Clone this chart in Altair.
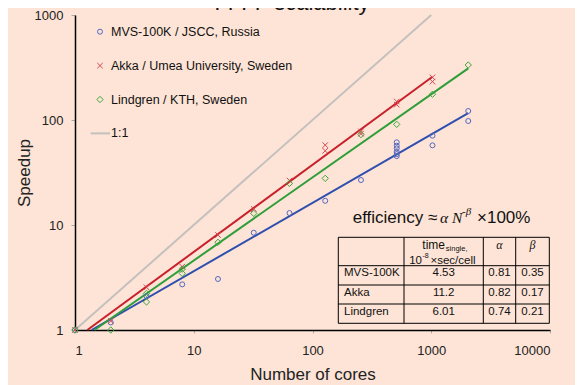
import altair as alt
import pandas as pd

# ---------------- data ----------------
mvs_cores = [1, 2, 4, 8, 16, 32, 64, 128, 256, 512, 512, 512, 512, 512, 512, 1024, 1024, 2048, 2048]
mvs_speedup = [1, 1.18, 2.1, 2.72, 3.06, 8.44, 13.0, 17.0, 26.8, 61.3, 56.9, 53.7, 49.6, 47.3, 45.3, 70.9, 57.4, 121.8, 97.8]

akka_cores = [1, 2, 4, 8, 16, 32, 64, 128, 128, 256, 256, 512, 512, 1024, 1024]
akka_speedup = [1, 1.22, 2.55, 4.01, 8.03, 14.2, 26.5, 57.7, 50.9, 78, 74, 150, 140, 255, 232]

lind_cores = [1, 2, 4, 4, 8, 8, 16, 32, 64, 128, 256, 512, 1024, 2048]
lind_speedup = [1, 1.0, 2.23, 1.85, 3.46, 3.8, 6.84, 12.9, 24.9, 27.8, 72.5, 90.9, 176, 334]

# fitted lines (start / end points)
mvs_fit_cores = [1.38, 2048]
mvs_fit_speedup = [1, 116]
akka_fit_cores = [1.27, 1024]
akka_fit_speedup = [1, 258]
lind_fit_cores = [1.46, 2048]
lind_fit_speedup = [1, 310]
ideal_cores = [1, 1000]
ideal_speedup = [1, 1000]

legend_labels = ["MVS-100K / JSCC, Russia", "Akka / Umea University, Sweden", "Lindgren / KTH, Sweden", "1:1"]

table_rows = ["MVS-100K", "Akka", "Lindgren"]
table_time = ["4.53", "11.2", "6.01"]
table_alpha = ["0.81", "0.82", "0.74"]
table_beta = ["0.35", "0.17", "0.21"]

x_ticks = [1, 10, 100, 1000, 10000]
y_ticks = [1, 10, 100, 1000]

# ---------------- styles ----------------
BG = "#FDE4D6"
W, H = 475, 315
SANS = "Liberation Sans"
SERIF = "Liberation Serif"
BLUE_L, BLUE_M = "#2F4FAE", "#5468C0"
RED_L, RED_M = "#C8202A", "#D5474F"
GREEN_L, GREEN_M = "#2E9E3A", "#3DA63D"
GRAY = "#C4C0BE"
XSHAPE = "M-1,-1L1,1M-1,1L1,-1"

xs = alt.Scale(type="log", domain=[1, 10000], nice=False)
ys = alt.Scale(type="log", domain=[1, 1000], nice=False)
x_axis = alt.Axis(values=x_ticks, format="d", title="Number of cores", grid=False,
                  domainColor="black", domainWidth=1.5, tickColor="#AAAAAA", tickSize=3,
                  labelFont=SANS, labelFontSize=13, labelColor="#222222", labelPadding=11,
                  titleFont=SANS, titleFontSize=17, titleFontWeight="normal", titleColor="#222222",
                  titleBaseline="alphabetic", titleY=49)
y_axis = alt.Axis(values=y_ticks, format="d", title="Speedup", grid=False,
                  domainColor="black", domainWidth=1.5, tickColor="#AAAAAA", tickSize=4,
                  labelFont=SANS, labelFontSize=13, labelColor="#222222", labelPadding=8,
                  titleFont=SANS, titleFontSize=17, titleFontWeight="normal", titleColor="#222222",
                  titleBaseline="alphabetic", titleX=-45.5)


def xy(df):
    return dict(x=alt.X("cores:Q", scale=xs, axis=x_axis), y=alt.Y("speedup:Q", scale=ys, axis=y_axis))


def line(cores, speed, color):
    df = pd.DataFrame({"cores": cores, "speedup": speed})
    return alt.Chart(df).mark_line(color=color, strokeWidth=2).encode(**xy(df))


def points(cores, speed, shape, color, size):
    df = pd.DataFrame({"cores": cores, "speedup": speed})
    return alt.Chart(df).mark_point(shape=shape, filled=False, color=color, size=size,
                                    strokeWidth=1, opacity=1).encode(**xy(df))


one = pd.DataFrame({"a": [0]})


def txt(text, x, y, size=12, font=SANS, align="left", baseline="alphabetic", style="normal", color="#111111"):
    return alt.Chart(one).mark_text(text=text, font=font, fontSize=size, align=align, baseline=baseline,
                                    fontStyle=style, color=color).encode(x=alt.value(x), y=alt.value(y))


def rule(x1, y1, x2, y2, color="black", w=1):
    return alt.Chart(one).mark_rule(color=color, strokeWidth=w).encode(
        x=alt.value(x1), x2=alt.value(x2), y=alt.value(y1), y2=alt.value(y2))


layers = [
    line(ideal_cores, ideal_speedup, GRAY),
    line(mvs_fit_cores, mvs_fit_speedup, BLUE_L),
    line(akka_fit_cores, akka_fit_speedup, RED_L),
    line(lind_fit_cores, lind_fit_speedup, GREEN_L),
    points(mvs_cores, mvs_speedup, "circle", BLUE_M, 25),
    points(akka_cores, akka_speedup, XSHAPE, RED_M, 30),
    points(lind_cores, lind_speedup, "diamond", GREEN_M, 40),
]

# legend
leg_shapes = [("circle", BLUE_M, 25), (XSHAPE, RED_M, 30), ("diamond", GREEN_M, 40)]
for i, lab in enumerate(legend_labels):
    yy = 16.7 + 33.9 * i
    if i < 3:
        shp, col, sz = leg_shapes[i]
        layers.append(alt.Chart(one).mark_point(shape=shp, filled=False, color=col, size=sz, strokeWidth=1,
                                                opacity=1).encode(x=alt.value(25), y=alt.value(yy)))
    else:
        layers.append(rule(15.7, yy, 35, yy, GRAY, 2))
    layers.append(txt(lab, 36, yy, size=12.5, baseline="middle"))

# title (cut off at the top, as in the reference)
layers.append(txt("FFFF scalability", 217, -5.5, size=22, align="center", color="#111111"))

# efficiency formula
layers += [
    txt("efficiency \u2248", 277.7, 207.5, size=17),
    txt("\u03b1 N", 365, 207.5, size=15.5, font=SERIF, style="italic"),
    txt("-\u03b2", 387, 200, size=11, font=SERIF, style="italic"),
    txt("\u00d7100%", 402, 207.5, size=17),
]

# table grid
tx = [263.3, 329, 408.3, 440.7, 474.3]
ty = [222.3, 250.7, 270, 289, 308.3]
for yv in ty:
    layers.append(rule(tx[0], yv, tx[-1], yv))
for xv in tx:
    layers.append(rule(xv, ty[0], xv, ty[-1]))

# table header
layers += [
    txt("time", 370, 234, size=12, align="right"),
    txt("single,", 370.8, 236, size=7.5),
    txt("10", 347, 248.5, size=11.5, align="right"),
    txt("-8", 347.5, 243, size=7),
    txt("\u00d7sec/cell", 355.5, 248.5, size=11.5),
    txt("\u03b1", 424.5, 234, size=12, font=SERIF, style="italic", align="center"),
    txt("\u03b2", 457.5, 234, size=12, font=SERIF, style="italic", align="center"),
]
row_y = [258.3, 277.7, 296.7]
for i in range(3):
    layers += [
        txt(table_rows[i], 269, row_y[i], size=11.5, baseline="middle"),
        txt(table_time[i], 368.7, row_y[i], size=11.5, baseline="middle", align="center"),
        txt(table_alpha[i], 424.5, row_y[i], size=11.5, baseline="middle", align="center"),
        txt(table_beta[i], 457.5, row_y[i], size=11.5, baseline="middle", align="center"),
    ]

chart = alt.layer(*layers).properties(
    width=W, height=H,
    autosize=alt.AutoSizeParams(type="none"),
    padding={"left": 67, "top": 7, "right": 25, "bottom": 55},
    background=BG,
).configure_view(stroke=None)

chart.save("out.html", embed_options={"renderer": "svg", "actions": False})
